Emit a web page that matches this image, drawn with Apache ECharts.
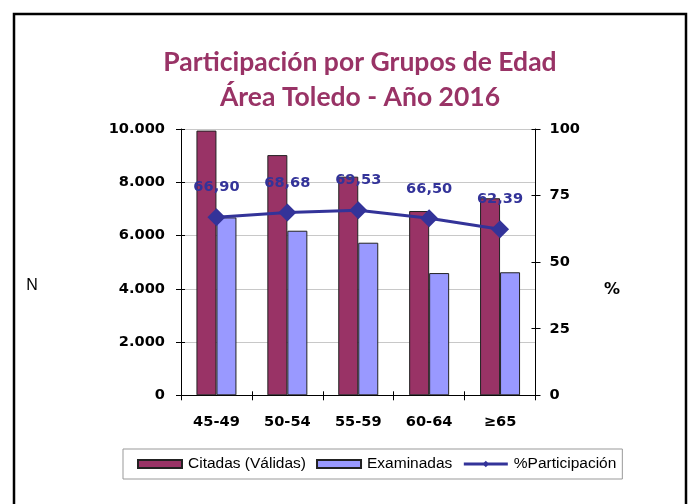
<!DOCTYPE html>
<html>
<head>
<meta charset="utf-8">
<script src="https://cdn.jsdelivr.net/npm/echarts@6/dist/echarts.min.js"></script>
<style>html,body{margin:0;padding:0;background:#fff}#c{width:689px;height:504px}</style>
</head>
<body>
<div id="c"></div>
<script>
const categories = ['45-49', '50-54', '55-59', '60-64', '≥65'];
const citadas = [9940, 9020, 8210, 6920, 7400];
const examinadas = [6680, 6180, 5730, 4590, 4620];
const participacion = [66.90, 68.68, 69.53, 66.50, 62.39];
const leftTicks = [0, 2000, 4000, 6000, 8000, 10000];
const rightTicks = [0, 25, 50, 75, 100];
const titleLines = ['Participación por Grupos de Edad', 'Área Toledo - Año 2016'];
const seriesNames = ['Citadas (Válidas)', 'Examinadas', '%Participación'];

const chart = echarts.init(document.getElementById('c'), null, {renderer: 'canvas'});
const axisFont = {fontFamily: 'DejaVu Sans', fontWeight: 'bold', fontSize: 14.6, color: '#000'};
const fmtThousands = v => String(v).replace(/\B(?=(\d{3})+(?!\d))/g, '.');

const option = {
  backgroundColor: '#fff',
  animation: false,
  graphic: [
    {type: 'rect', shape: {x: 14, y: 14, width: 672, height: 510}, style: {fill: 'none', stroke: '#000', lineWidth: 2.5}, z: 0},
    {type: 'text', x: 360, y: 62, style: {text: titleLines[0], fill: '#993366', font: 'bold 26.5px Lato', textAlign: 'center', textVerticalAlign: 'middle'}},
    {type: 'text', x: 360, y: 97, style: {text: titleLines[1], fill: '#993366', font: 'bold 26.5px Lato', textAlign: 'center', textVerticalAlign: 'middle'}},
    {type: 'text', x: 32, y: 286, style: {text: 'N', fill: '#000', font: '16px "Liberation Sans"', textAlign: 'center', textVerticalAlign: 'middle'}},
    {type: 'text', x: 612, y: 290, style: {text: '%', fill: '#000', font: 'bold 16px "DejaVu Sans"', textAlign: 'center', textVerticalAlign: 'middle'}}
  ],
  legend: {
    left: 123, top: 449,
    padding: [7, 6, 7, 14],
    borderColor: '#999', borderWidth: 1,
    itemWidth: 44, itemHeight: 8, itemGap: 10,
    textStyle: {fontFamily: 'Liberation Sans', fontSize: 15.5, color: '#000', padding: [0, 0, 0, 1]},
    data: [
      {name: seriesNames[0], icon: 'rect'},
      {name: seriesNames[1], icon: 'rect'},
      {name: seriesNames[2], lineStyle: {width: 3, color: '#333399'}}
    ]
  },
  grid: {left: 181, right: 153.5, top: 129, bottom: 108.7, containLabel: false},
  xAxis: [
    {type: 'category', data: categories, position: 'bottom',
     axisLine: {lineStyle: {color: '#000', width: 1}},
     axisTick: {show: true, alignWithLabel: false, length: 5, lineStyle: {color: '#000'}},
     axisLabel: Object.assign({margin: 19}, axisFont)},
    {type: 'category', data: categories, position: 'bottom',
     axisLine: {show: false},
     axisTick: {show: true, inside: true, length: 4, lineStyle: {color: '#000'}},
     axisLabel: {show: false}}
  ],
  yAxis: [
    {type: 'value', min: 0, max: 10000, interval: 2000, position: 'left',
     axisLine: {show: true, lineStyle: {color: '#000'}},
     axisTick: {show: true, length: 5, lineStyle: {color: '#000'}},
     splitLine: {show: true, lineStyle: {color: '#c8c8c8', width: 1}},
     axisLabel: Object.assign({margin: 16, formatter: v => fmtThousands(v)}, axisFont)},
    {type: 'value', min: 0, max: 100, interval: 25, position: 'right',
     axisLine: {show: true, lineStyle: {color: '#000'}},
     axisTick: {show: true, length: 5, lineStyle: {color: '#000'}},
     splitLine: {show: false},
     axisLabel: Object.assign({margin: 14}, axisFont)},
    {type: 'value', min: 0, max: 10000, interval: 2000, position: 'left',
     axisLine: {show: false}, splitLine: {show: false}, axisLabel: {show: false},
     axisTick: {show: true, inside: true, length: 4, lineStyle: {color: '#000'}}},
    {type: 'value', min: 0, max: 100, interval: 25, position: 'right',
     axisLine: {show: false}, splitLine: {show: false}, axisLabel: {show: false},
     axisTick: {show: true, inside: true, length: 4, lineStyle: {color: '#000'}}}
  ],
  series: [
    {name: seriesNames[0], type: 'bar', data: citadas, barWidth: 20, barGap: '0%',
     itemStyle: {color: '#993366', borderColor: '#222', borderWidth: 1}},
    {name: seriesNames[1], type: 'bar', data: examinadas, barWidth: 20, barGap: '0%',
     itemStyle: {color: '#9999FF', borderColor: '#222', borderWidth: 1}},
    {name: seriesNames[2], type: 'line', yAxisIndex: 1, data: participacion,
     symbol: 'diamond', symbolSize: 18,
     lineStyle: {color: '#333399', width: 3},
     itemStyle: {color: '#333399'},
     label: {show: true, position: 'top', distance: 13,
       formatter: p => p.value.toFixed(2).replace('.', ','),
       fontFamily: 'DejaVu Sans', fontWeight: 'bold', fontSize: 14.6, color: '#333399'},
     z: 5}
  ]
};
chart.setOption(option);
</script>
</body>
</html>
